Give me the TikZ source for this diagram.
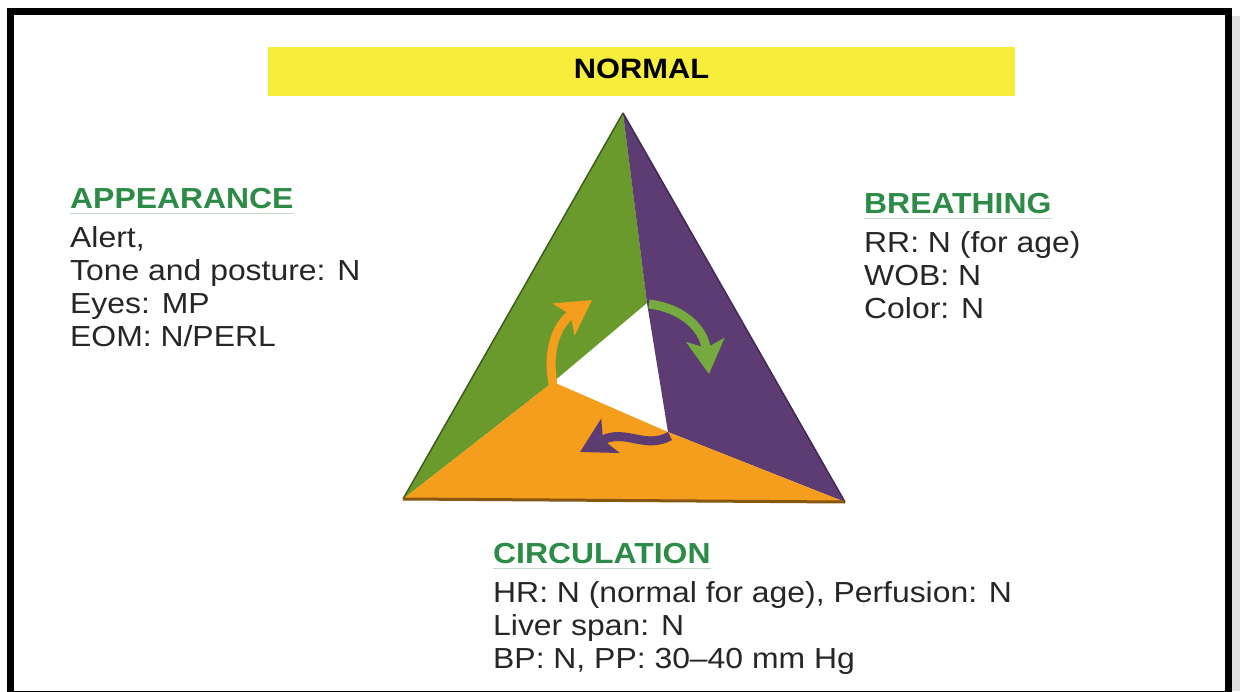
\documentclass[tikz,border=0pt]{standalone}
\usepackage{fontspec}
\setmainfont{Liberation Sans}[FakeStretch=1.1]
\usepackage{tikz}
\usetikzlibrary{arrows.meta, positioning}
\definecolor{cYellow}{RGB}{246,238,58}
\definecolor{cHead}{RGB}{44,139,70}
\definecolor{cText}{RGB}{38,38,38}
\definecolor{cGreenTri}{RGB}{106,154,44}
\definecolor{cPurpleTri}{RGB}{92,60,115}
\definecolor{cOrangeTri}{RGB}{245,157,28}
\definecolor{cGreenArr}{RGB}{118,170,62}
\tikzset{
	headtext/.style={anchor=base west, inner sep=0pt, font=\bfseries\fontsize{29}{33}\selectfont, text=cHead},
	bodytext/.style={anchor=base west, inner sep=0pt, font=\fontsize{29}{33}\selectfont, text=cText},
	headline/.style={cHead!30, line width=1.5pt},
	titlebar/.style={rectangle, fill=cYellow, minimum width=747pt, minimum height=49pt, text height=20pt, text depth=7pt, inner sep=0pt, font=\bfseries\fontsize{28}{33}\selectfont, text=black},
	% arrows of the cycle inside the triangle
	cyclearrow/.style={line width=9pt, -{Stealth[length=34pt, width=38pt, inset=8pt]}},
}
\begin{document}
\begin{tikzpicture}[x=1pt, y=-1pt]
	\useasboundingbox (0,0) rectangle (1240,691);
	\clip (0,0) rectangle (1240,691);
	\fill[white] (0,0) rectangle (1240,691);
	\fill[gray!25] (1232,16) rectangle (1240,691);
	\draw[line width=7pt] (10.5,11.5) rectangle (1228.5,694.5);

	\node[titlebar] (normal) at (641.5,71.5) {NORMAL};

	% triangle corners and inner hole
	\coordinate (top) at (623,113);
	\coordinate (bl) at (403,499);
	\coordinate (br) at (845,502);
	\coordinate (in1) at (647,303);
	\coordinate (in2) at (553,382);
	\coordinate (in3) at (668,432);
	\fill[cGreenTri] (top) -- (in1) -- (in2) -- (bl) -- cycle;
	\fill[cPurpleTri] (top) -- (br) -- (in3) -- (in1) -- cycle;
	\fill[cOrangeTri] (bl) -- (in2) -- (in3) -- (br) -- cycle;
	\draw[cGreenTri!60!black, line width=1.5pt] (bl) -- (top);
	\draw[cPurpleTri!70!black, line width=1.5pt] (top) -- (br);
	\draw[cOrangeTri!55!black, line width=3pt] (bl) -- (br);

	\draw[cyclearrow, cOrangeTri] (553,384) .. controls (546,345) and (560,322) .. (592,300);
	\draw[cyclearrow, cGreenArr] (649,304) .. controls (682,308) and (704,328) .. (709,374);
	\draw[cyclearrow, cPurpleTri] (670,436) .. controls (645,450) and (625,428) .. (580,452);

	% appearance
	\node[headtext] (appTitle) at (70,208) {APPEARANCE};
	\draw[headline] ([yshift=-5pt]appTitle.south west) -- ([yshift=-5pt]appTitle.south east);
	\foreach \txt [count=\i] in {{Alert,}, {Tone and posture: N}, {Eyes: MP}, {EOM: N/PERL}} {
		\node[bodytext] (app\i) at (70,{247+(\i-1)*33}) {\txt};
	}

	% breathing
	\node[headtext] (brTitle) at (864,213) {BREATHING};
	\draw[headline] ([yshift=-5pt]brTitle.south west) -- ([yshift=-5pt]brTitle.south east);
	\foreach \txt [count=\i] in {{RR: N (for age)}, {WOB: N}, {Color: N}} {
		\node[bodytext] (br\i) at (864,{252+(\i-1)*33}) {\txt};
	}

	% circulation
	\node[headtext] (circTitle) at (493,563) {CIRCULATION};
	\draw[headline] ([yshift=-5pt]circTitle.south west) -- ([yshift=-5pt]circTitle.south east);
	\foreach \txt [count=\i] in {{HR: N (normal for age), Perfusion: N}, {Liver span: N}, {BP: N, PP: 30--40 mm Hg}} {
		\node[bodytext] (circ\i) at (493,{602+(\i-1)*33}) {\txt};
	}
\end{tikzpicture}
\end{document}
